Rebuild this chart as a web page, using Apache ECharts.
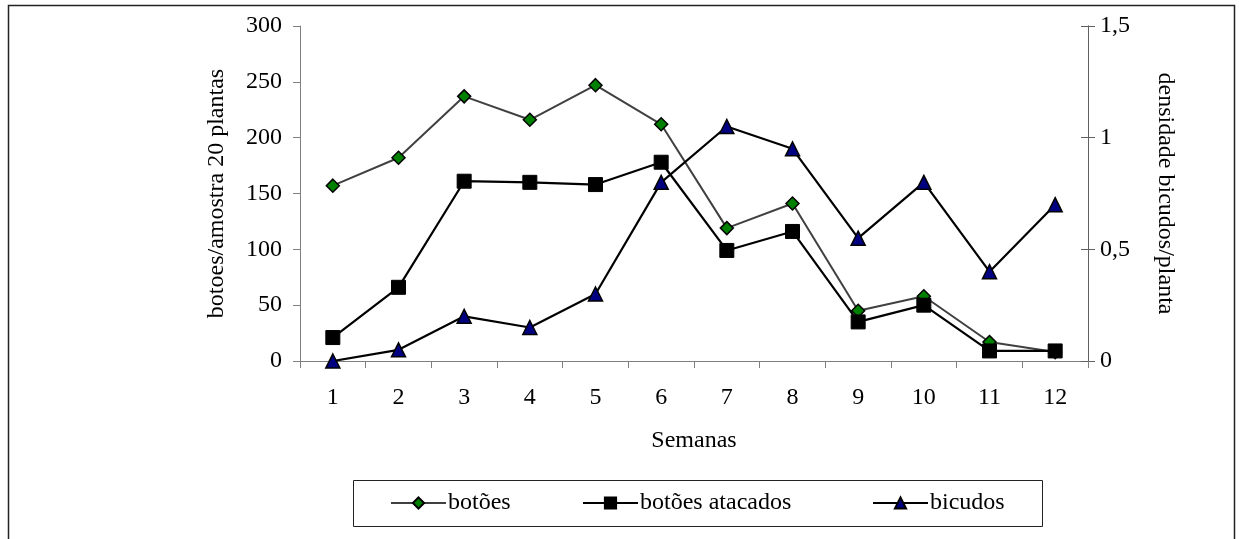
<!DOCTYPE html>
<html>
<head>
<meta charset="utf-8">
<script src="https://cdn.jsdelivr.net/npm/echarts@6/dist/echarts.min.js"></script>
<style>html,body{margin:0;padding:0;background:#fff}#c{width:1239px;height:539px}</style>
</head>
<body>
<div id="c"></div>
<script>
const categories = ['1','2','3','4','5','6','7','8','9','10','11','12'];
const botoes = [157, 182, 237, 216, 247, 212, 119, 141, 45, 58, 17, 8];
const botoesAtacados = [21, 66, 161, 160, 158, 178, 99, 116, 35, 50, 9, 9];
const bicudos = [0, 0.05, 0.2, 0.15, 0.3, 0.8, 1.05, 0.95, 0.55, 0.8, 0.4, 0.7];
const leftTicks = [0, 50, 100, 150, 200, 250, 300];
const rightTicks = [0, 0.5, 1, 1.5];

const FONT = 'Liberation Serif';
const FS = 24;
const chart = echarts.init(document.getElementById('c'), null, {renderer: 'canvas'});
const axisGray = '#808080';
const legendBase = {
  top: 491, itemWidth: 55, itemHeight: 14, itemGap: 0,
  textStyle: {fontFamily: FONT, fontSize: FS, color: '#000', padding: [0,0,0,-3]},
  padding: 0
};
const gridBox = {left: 300, right: 151, top: 26, bottom: 178, containLabel: false};
chart.setOption({
  animation: false,
  backgroundColor: '#fff',
  textStyle: {fontFamily: FONT},
  graphic: [
    {type: 'rect', shape: {x: 8.5, y: 5.5, width: 1226, height: 600}, style: {fill: 'none', stroke: '#222', lineWidth: 1.5}, silent: true},
    {type: 'rect', shape: {x: 353.5, y: 480.5, width: 689, height: 46}, style: {fill: 'none', stroke: '#222', lineWidth: 1}, silent: true}
  ],
  grid: [Object.assign({}, gridBox), Object.assign({}, gridBox)],
  legend: [
    Object.assign({}, legendBase, {left: 390, data: ['botões']}),
    Object.assign({}, legendBase, {left: 582, data: ['botões atacados']}),
    Object.assign({}, legendBase, {left: 872, data: ['bicudos']})
  ],
  xAxis: [{
    type: 'category', data: categories, boundaryGap: true, gridIndex: 0,
    name: 'Semanas', nameLocation: 'middle', nameGap: 68,
    nameTextStyle: {fontFamily: FONT, fontSize: FS, color: '#000'},
    axisLine: {lineStyle: {color: axisGray, width: 1}},
    axisTick: {show: true, length: 7, inside: false, lineStyle: {color: axisGray}},
    axisLabel: {fontFamily: FONT, fontSize: FS, color: '#000', margin: 25},
    splitLine: {show: false}
  }, {
    type: 'category', data: categories, gridIndex: 1, show: false
  }],
  yAxis: [
    {
      type: 'value', min: 0, max: 300, interval: 50, position: 'left', gridIndex: 0,
      name: 'botoes/amostra 20 plantas', nameLocation: 'middle', nameGap: 71,
      nameTextStyle: {fontFamily: FONT, fontSize: FS, color: '#000'},
      axisLine: {show: true, lineStyle: {color: axisGray, width: 1}},
      axisTick: {show: true, length: 7, lineStyle: {color: axisGray}},
      axisLabel: {fontFamily: FONT, fontSize: FS, color: '#000', margin: 18,
        formatter: v => leftTicks.includes(v) ? String(v) : ''},
      splitLine: {show: false}
    },
    {
      type: 'value', min: 0, max: 1.5, interval: 0.5, position: 'right', gridIndex: 0,
      name: 'densidade bicudos/planta', nameLocation: 'middle', nameGap: 65, nameRotate: -90,
      nameTextStyle: {fontFamily: FONT, fontSize: FS, color: '#000'},
      axisLine: {show: true, lineStyle: {color: '#606060', width: 1}},
      axisTick: {show: true, length: 7, lineStyle: {color: '#606060'}},
      axisLabel: {fontFamily: FONT, fontSize: FS, color: '#000', margin: 12,
        formatter: v => rightTicks.includes(v) ? String(v).replace('.', ',') : ''},
      splitLine: {show: false}
    },
    {
      type: 'value', min: 0, max: 1.5, interval: 0.5, position: 'right', gridIndex: 1,
      axisLine: {show: true, lineStyle: {color: '#606060', width: 1}},
      axisTick: {show: true, inside: true, length: 7, lineStyle: {color: '#606060'}},
      axisLabel: {show: false},
      splitLine: {show: false}
    }
  ],
  series: [
    {
      name: 'botões', type: 'line', yAxisIndex: 0, data: botoes,
      symbol: 'diamond', symbolSize: 13,
      lineStyle: {color: '#404040', width: 2},
      itemStyle: {color: '#008000', borderColor: '#000', borderWidth: 1.5},
      z: 3
    },
    {
      name: 'botões atacados', type: 'line', yAxisIndex: 0, data: botoesAtacados,
      symbol: 'rect', symbolSize: 14,
      lineStyle: {color: '#000', width: 2.2},
      itemStyle: {color: '#000', borderColor: '#000', borderWidth: 1},
      z: 4
    },
    {
      name: 'bicudos', type: 'line', yAxisIndex: 1, data: bicudos,
      symbol: 'triangle', symbolSize: 14,
      lineStyle: {color: '#000', width: 2.2},
      itemStyle: {color: '#000080', borderColor: '#000', borderWidth: 1.5},
      z: 5
    }
  ]
});
</script>
</body>
</html>
